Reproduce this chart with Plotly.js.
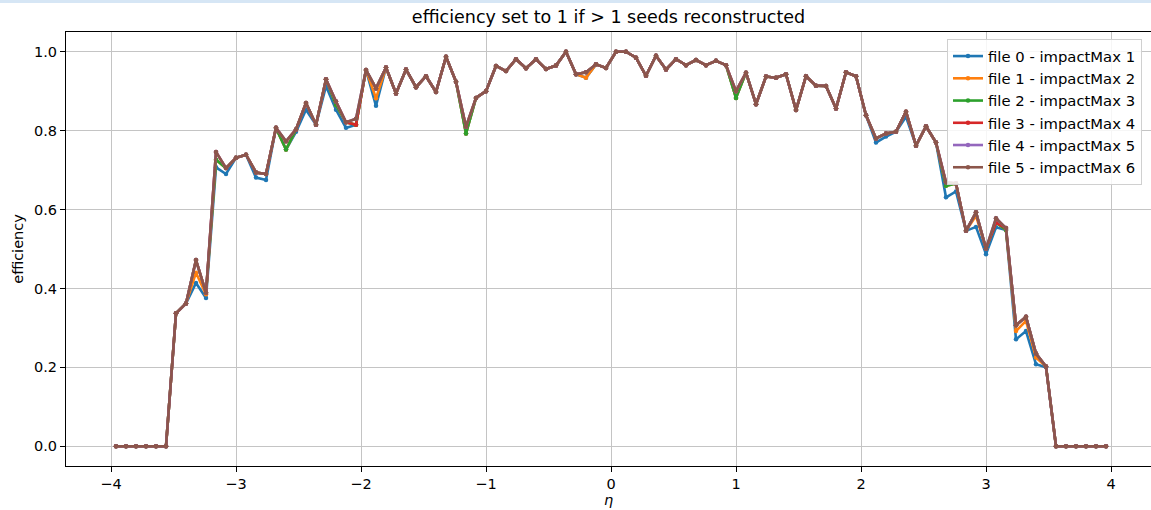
<!DOCTYPE html>
<html>
<head>
<meta charset="utf-8">
<script src="https://cdn.plot.ly/plotly-3.0.1.min.js"></script>
<style>
  html, body { margin: 0; padding: 0; background: #ffffff; }
  #chart { width: 1151px; height: 510px; }
  #topband { position: absolute; left: 0; top: 0; width: 1151px; height: 3px; background: #d6e6f5; z-index: 10; }
</style>
</head>
<body>
<div id="topband"></div>
<div id="chart"></div>
<script>
// eta bin centres
const eta = [
  -3.96,-3.88,-3.80,-3.72,-3.64,-3.56,-3.48,-3.40,-3.32,-3.24,
  -3.16,-3.08,-3.00,-2.92,-2.84,-2.76,-2.68,-2.60,-2.52,-2.44,
  -2.36,-2.28,-2.20,-2.12,-2.04,-1.96,-1.88,-1.80,-1.72,-1.64,
  -1.56,-1.48,-1.40,-1.32,-1.24,-1.16,-1.08,-1.00,-0.92,-0.84,
  -0.76,-0.68,-0.60,-0.52,-0.44,-0.36,-0.28,-0.20,-0.12,-0.04,
   0.04, 0.12, 0.20, 0.28, 0.36, 0.44, 0.52, 0.60, 0.68, 0.76,
   0.84, 0.92, 1.00, 1.08, 1.16, 1.24, 1.32, 1.40, 1.48, 1.56,
   1.64, 1.72, 1.80, 1.88, 1.96, 2.04, 2.12, 2.20, 2.28, 2.36,
   2.44, 2.52, 2.60, 2.68, 2.76, 2.84, 2.92, 3.00, 3.08, 3.16,
   3.24, 3.32, 3.40, 3.48, 3.56, 3.64, 3.72, 3.80, 3.88, 3.96
];

const file0 = [
  0,0,0,0,0,0,0.337,0.362,0.414,0.376,
  0.707,0.690,0.731,0.739,0.681,0.675,0.807,0.752,0.797,0.853,
  0.815,0.913,0.853,0.807,0.815,0.954,0.863,0.960,0.894,0.955,
  0.910,0.938,0.898,0.987,0.924,0.793,0.883,0.900,0.964,0.951,
  0.981,0.958,0.981,0.956,0.965,1.000,0.943,0.934,0.968,0.959,
  1.000,1.000,0.985,0.939,0.990,0.955,0.981,0.966,0.979,0.966,
  0.977,0.966,0.883,0.947,0.867,0.937,0.934,0.943,0.852,0.938,
  0.914,0.913,0.856,0.948,0.938,0.839,0.770,0.785,0.797,0.835,
  0.762,0.811,0.770,0.631,0.646,0.546,0.556,0.487,0.555,0.548,
  0.271,0.292,0.208,0.200,0,0,0,0,0,0
];

const file1 = [
  0,0,0,0,0,0,0.337,0.362,0.440,0.385,
  0.726,0.705,0.731,0.739,0.694,0.690,0.807,0.752,0.803,0.870,
  0.815,0.930,0.865,0.821,0.815,0.954,0.882,0.960,0.894,0.955,
  0.910,0.938,0.898,0.987,0.924,0.793,0.883,0.900,0.964,0.951,
  0.981,0.958,0.981,0.956,0.965,1.000,0.943,0.934,0.968,0.959,
  1.000,1.000,0.985,0.939,0.990,0.955,0.981,0.966,0.979,0.966,
  0.977,0.966,0.883,0.947,0.867,0.937,0.934,0.943,0.852,0.938,
  0.914,0.913,0.856,0.948,0.938,0.839,0.780,0.793,0.797,0.848,
  0.762,0.811,0.770,0.660,0.666,0.546,0.584,0.501,0.567,0.548,
  0.292,0.318,0.225,0.202,0,0,0,0,0,0
];

const file2 = [
  0,0,0,0,0,0,0.337,0.362,0.472,0.389,
  0.726,0.705,0.731,0.739,0.694,0.690,0.807,0.752,0.803,0.870,
  0.815,0.930,0.865,0.821,0.815,0.954,0.907,0.960,0.894,0.955,
  0.910,0.938,0.898,0.987,0.924,0.793,0.883,0.900,0.964,0.951,
  0.981,0.958,0.981,0.956,0.965,1.000,0.943,0.948,0.968,0.959,
  1.000,1.000,0.985,0.939,0.990,0.955,0.981,0.966,0.979,0.966,
  0.977,0.966,0.883,0.947,0.867,0.937,0.934,0.943,0.852,0.938,
  0.914,0.913,0.856,0.948,0.938,0.839,0.780,0.793,0.797,0.848,
  0.762,0.811,0.770,0.660,0.666,0.546,0.593,0.501,0.567,0.548,
  0.307,0.328,0.235,0.202,0,0,0,0,0,0
];

const file3 = [
  0,0,0,0,0,0,0.337,0.362,0.472,0.389,
  0.746,0.705,0.731,0.739,0.694,0.690,0.807,0.773,0.803,0.870,
  0.815,0.930,0.874,0.821,0.815,0.954,0.907,0.960,0.894,0.955,
  0.910,0.938,0.898,0.987,0.924,0.810,0.883,0.900,0.964,0.951,
  0.981,0.958,0.981,0.956,0.965,1.000,0.943,0.948,0.968,0.959,
  1.000,1.000,0.985,0.939,0.990,0.955,0.981,0.966,0.979,0.966,
  0.977,0.966,0.900,0.947,0.867,0.937,0.934,0.943,0.852,0.938,
  0.914,0.913,0.856,0.948,0.938,0.839,0.780,0.793,0.797,0.848,
  0.762,0.811,0.770,0.669,0.666,0.546,0.593,0.501,0.567,0.553,
  0.307,0.328,0.235,0.202,0,0,0,0,0,0
];

const file4 = [
  0,0,0,0,0,0,0.337,0.362,0.472,0.389,
  0.746,0.705,0.731,0.739,0.694,0.690,0.807,0.773,0.803,0.870,
  0.815,0.930,0.874,0.821,0.830,0.954,0.907,0.960,0.894,0.955,
  0.910,0.938,0.898,0.987,0.924,0.810,0.883,0.900,0.964,0.951,
  0.981,0.958,0.981,0.956,0.965,1.000,0.943,0.948,0.968,0.959,
  1.000,1.000,0.985,0.939,0.990,0.955,0.981,0.966,0.979,0.966,
  0.977,0.966,0.900,0.947,0.867,0.937,0.934,0.943,0.852,0.938,
  0.914,0.913,0.856,0.948,0.938,0.839,0.780,0.793,0.797,0.848,
  0.762,0.811,0.770,0.669,0.666,0.546,0.593,0.501,0.578,0.553,
  0.307,0.328,0.235,0.202,0,0,0,0,0,0
];

const file5 = [
  0,0,0,0,0,0,0.337,0.362,0.472,0.389,
  0.746,0.705,0.731,0.739,0.694,0.690,0.807,0.773,0.803,0.870,
  0.815,0.930,0.874,0.821,0.830,0.954,0.907,0.960,0.894,0.955,
  0.910,0.938,0.898,0.987,0.924,0.810,0.883,0.900,0.964,0.951,
  0.981,0.958,0.981,0.956,0.965,1.000,0.943,0.948,0.968,0.959,
  1.000,1.000,0.985,0.939,0.990,0.955,0.981,0.966,0.979,0.966,
  0.977,0.966,0.900,0.947,0.867,0.937,0.934,0.943,0.852,0.938,
  0.914,0.913,0.856,0.948,0.938,0.839,0.780,0.793,0.797,0.848,
  0.762,0.811,0.770,0.669,0.666,0.546,0.593,0.501,0.578,0.553,
  0.307,0.328,0.235,0.202,0,0,0,0,0,0
];

const seriesNames = [
  "file 0 - impactMax 1",
  "file 1 - impactMax 2",
  "file 2 - impactMax 3",
  "file 3 - impactMax 4",
  "file 4 - impactMax 5",
  "file 5 - impactMax 6"
];
const seriesColors = ["#1f77b4", "#ff7f0e", "#2ca02c", "#d62728", "#9467bd", "#8c564b"];
const seriesValues = [file0, file1, file2, file3, file4, file5];

const xTicks = [-4, -3, -2, -1, 0, 1, 2, 3, 4];
const yTicks = [0.0, 0.2, 0.4, 0.6, 0.8, 1.0];

const FONT = "DejaVu Sans, Liberation Sans, sans-serif";

const traces = seriesValues.map((vals, i) => ({
  type: "scatter",
  mode: "lines+markers",
  x: eta,
  y: vals,
  name: seriesNames[i],
  line: { color: seriesColors[i], width: 2.6 },
  marker: { color: seriesColors[i], size: 4.5 }
}));

const layout = {
  width: 1151,
  height: 510,
  margin: { l: 66, r: 0, t: 32, b: 44, pad: 0 },
  paper_bgcolor: "#ffffff",
  plot_bgcolor: "#ffffff",
  font: { family: FONT, size: 14.5, color: "#000000" },
  title: {
    text: "efficiency set to 1 if > 1 seeds reconstructed",
    font: { family: FONT, size: 17.5, color: "#000000" },
    x: 0.5, xref: "paper", xanchor: "center",
    y: 0.966, yref: "container", yanchor: "middle"
  },
  showlegend: true,
  legend: {
    x: 0.812, y: 0.984, xanchor: "left", yanchor: "top",
    bgcolor: "rgba(255,255,255,0.85)",
    bordercolor: "#d0d0d0", borderwidth: 1,
    font: { family: FONT, size: 14.8, color: "#000000" },
    itemwidth: 30,
    tracegroupgap: 0
  },
  xaxis: {
    range: [-4.36, 4.32],
    tickvals: xTicks,
    ticktext: xTicks.map(v => (v < 0 ? "\u2212" + Math.abs(v) : String(v))),
    ticks: "outside", ticklen: 5, tickwidth: 1, tickcolor: "#000000",
    showgrid: true, gridcolor: "#c4c4c4", gridwidth: 1,
    zeroline: false,
    showline: true, linecolor: "#000000", linewidth: 1, mirror: true,
    tickfont: { family: FONT, size: 14.5, color: "#000000" },
    title: { text: "<i>η</i>", font: { family: FONT, size: 14.5, color: "#000000" }, standoff: 2 }
  },
  yaxis: {
    range: [-0.05, 1.05],
    tickvals: yTicks,
    ticktext: yTicks.map(v => v.toFixed(1)),
    ticks: "outside", ticklen: 5, tickwidth: 1, tickcolor: "#000000",
    showgrid: true, gridcolor: "#c4c4c4", gridwidth: 1,
    zeroline: false,
    showline: true, linecolor: "#000000", linewidth: 1, mirror: false,
    tickfont: { family: FONT, size: 14.5, color: "#000000" },
    title: { text: "efficiency", font: { family: FONT, size: 14.5, color: "#000000" }, standoff: 6 }
  }
};

Plotly.newPlot("chart", traces, layout, { displayModeBar: false, staticPlot: true });
</script>
</body>
</html>
